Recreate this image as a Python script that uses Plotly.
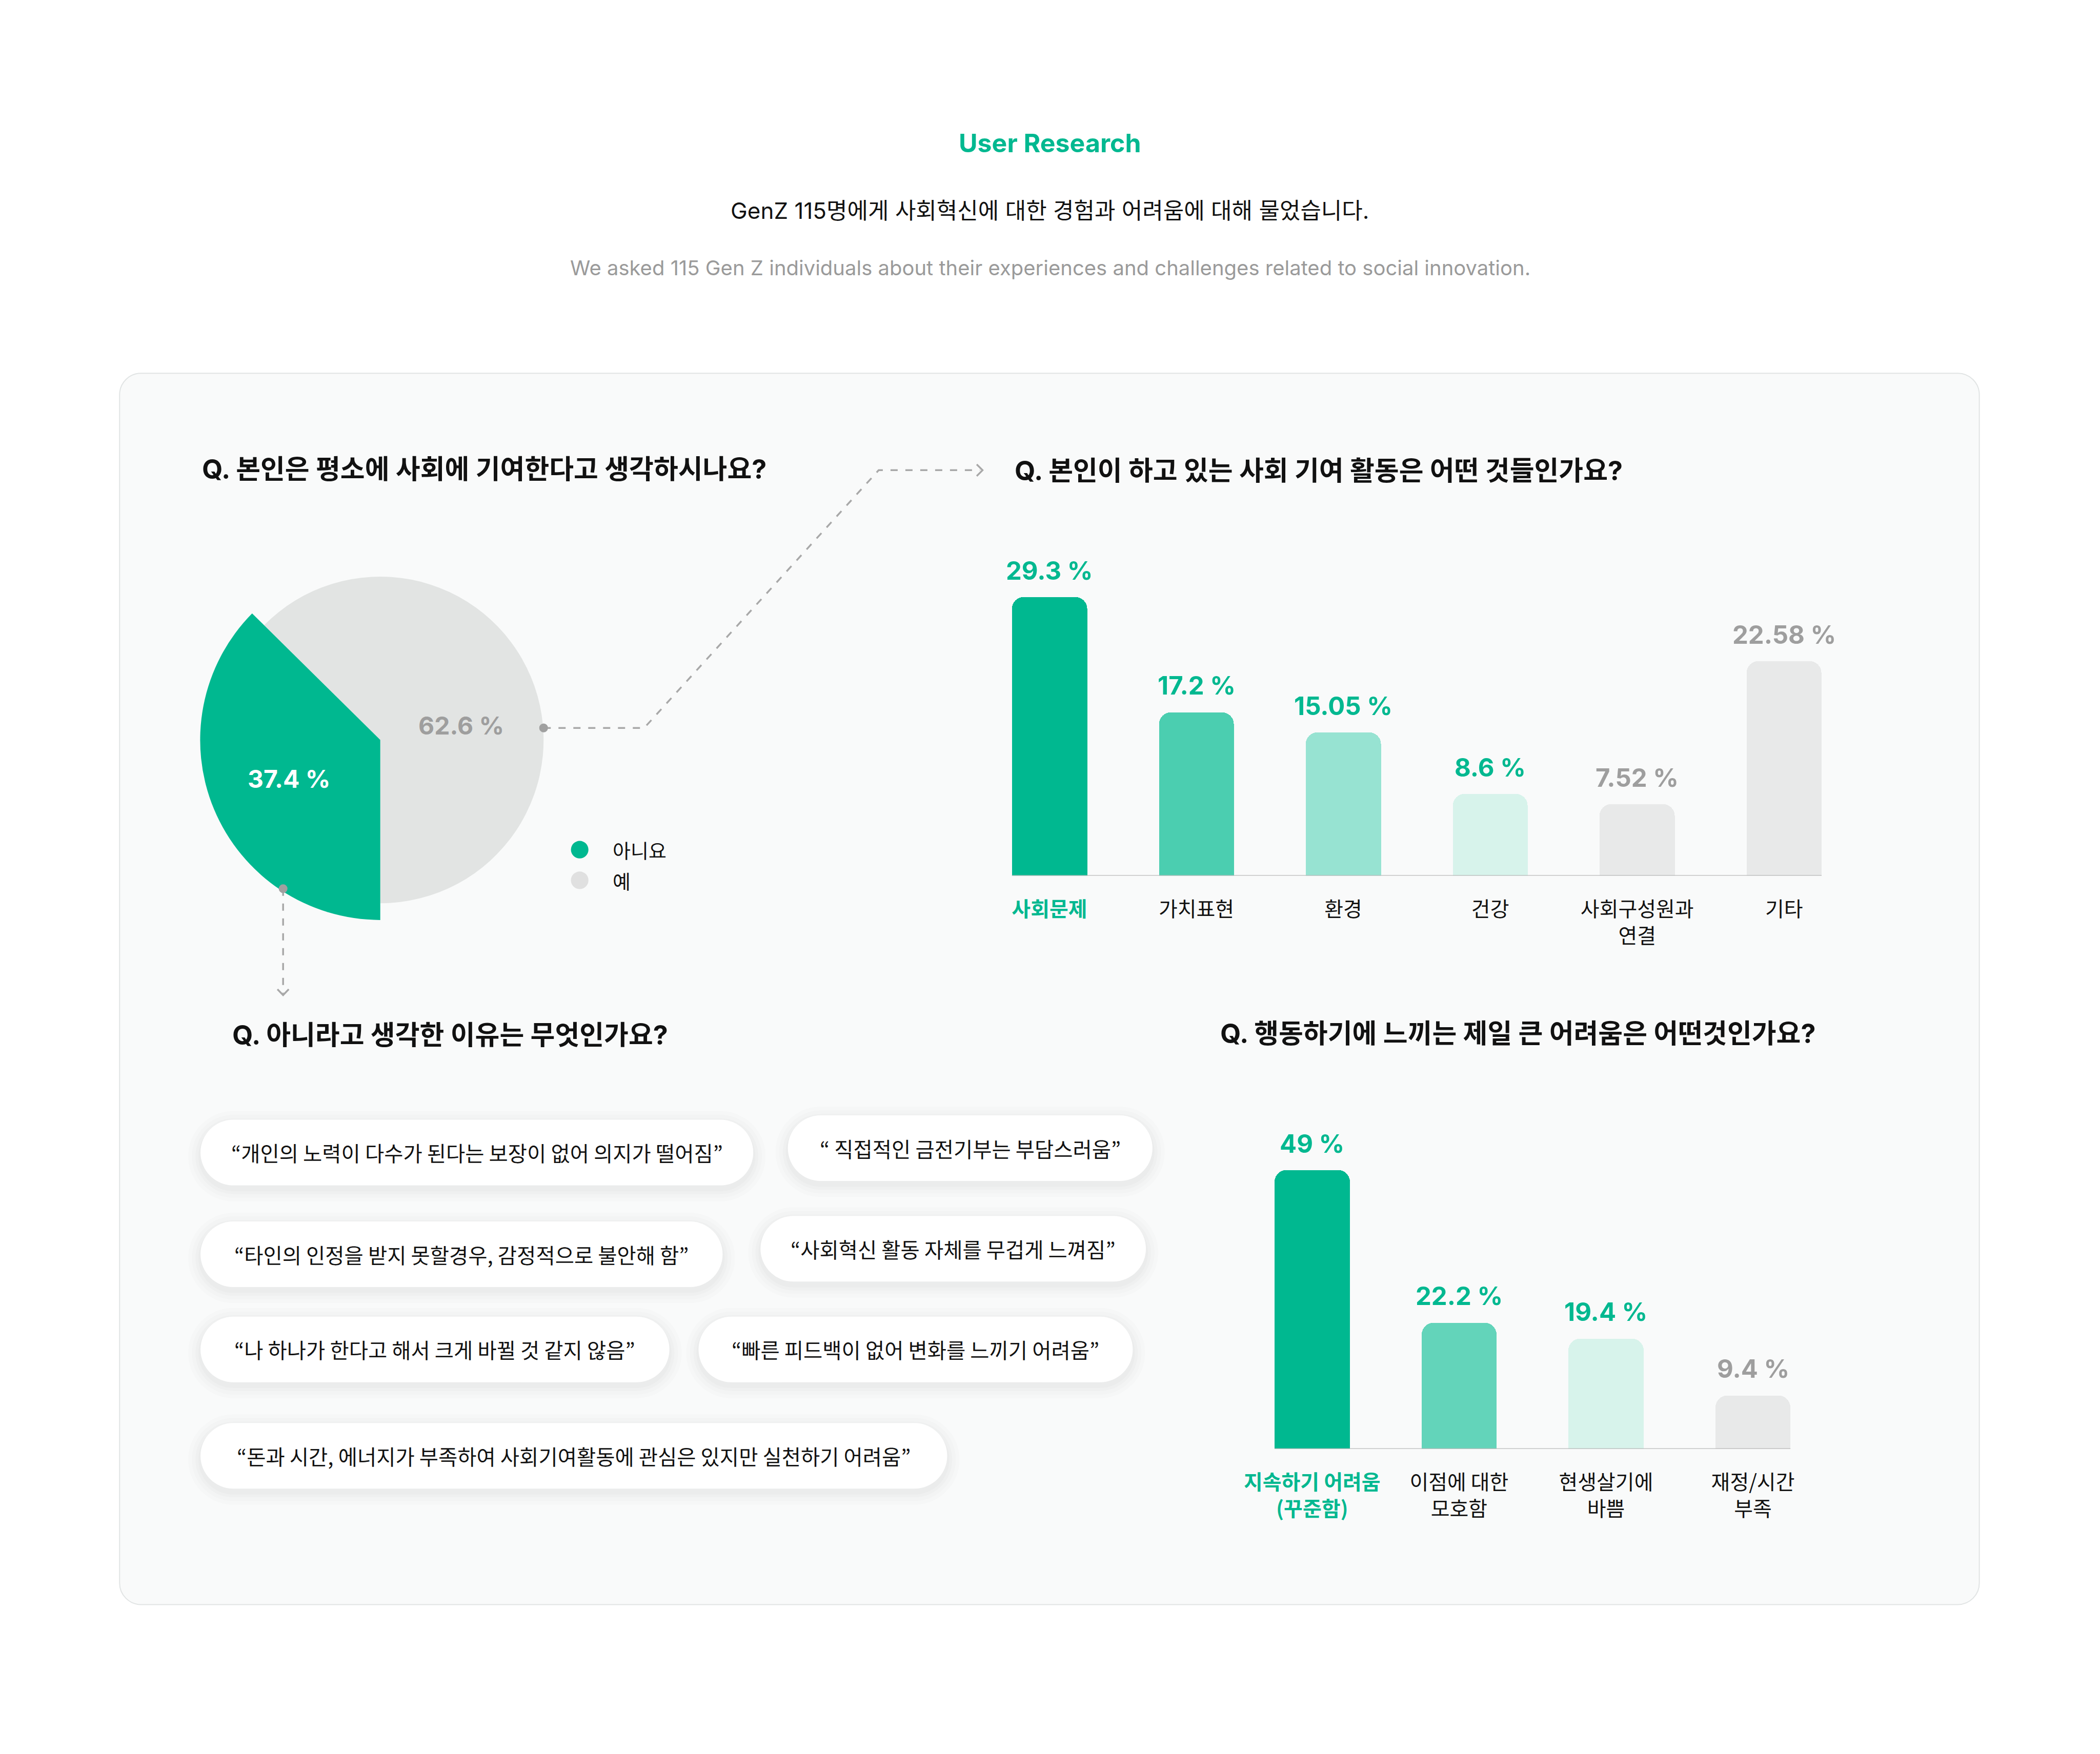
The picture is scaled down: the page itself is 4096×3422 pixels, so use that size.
import plotly.graph_objects as go

# ---------------- data ----------------
pie_labels = ["아니요", "예"]
pie_values = [37.4, 62.6]

act_categories = ["사회문제", "가치표현", "환경", "건강", "사회구성원과 연결", "기타"]
act_ticklabels = ["사회문제", "가치표현", "환경", "건강", "사회구성원과<br>연결", "기타"]
act_values = [29.3, 17.2, 15.05, 8.6, 7.52, 22.58]

diff_categories = ["지속하기 어려움 (꾸준함)", "이점에 대한 모호함", "현생살기에 바쁨", "재정/시간 부족"]
diff_ticklabels = ["지속하기 어려움<br>(꾸준함)", "이점에 대한<br>모호함", "현생살기에<br>바쁨", "재정/시간<br>부족"]
diff_values = [49, 22.2, 19.4, 9.4]

quotes = [
    "“개인의 노력이 다수가 된다는 보장이 없어 의지가 떨어짐”",
    "“ 직접적인 금전기부는 부담스러움”",
    "“타인의 인정을 받지 못할경우, 감정적으로 불안해 함”",
    "“사회혁신 활동 자체를 무겁게 느껴짐”",
    "“나 하나가 한다고 해서 크게 바뀔 것 같지 않음”",
    "“빠른 피드백이 없어 변화를 느끼기 어려움”",
    "“돈과 시간, 에너지가 부족하여 사회기여활동에 관심은 있지만 실천하기 어려움”",
]

title_main = "User Research"
subtitle_ko = "GenZ 115명에게 사회혁신에 대한 경험과 어려움에 대해 물었습니다."
subtitle_en = "We asked 115 Gen Z individuals about their experiences and challenges related to social innovation."
q_titles = [
    "Q. 본인은 평소에 사회에 기여한다고 생각하시나요?",
    "Q. 본인이 하고 있는 사회 기여 활동은 어떤 것들인가요?",
    "Q. 아니라고 생각한 이유는 무엇인가요?",
    "Q. 행동하기에 느끼는 제일 큰 어려움은 어떤것인가요?",
]

# ---------------- styling / geometry (reference pixel space) ----------------
W_REF, H_REF = 5760, 4812
W_OUT, H_OUT = 4096, 3422
FONT = "Inter, 'Noto Sans CJK KR', sans-serif"
KFONT = "'Noto Sans CJK KR', Inter, sans-serif"
GREEN = "#00B890"
GREY_TXT = "#9E9E9E"
BLACK = "#111111"
PIE_GREY = "#E2E4E3"

act_colors = ["#00B890", "#4BCEB0", "#97E3D2", "#D7F3EB", "#E8E9E9", "#E8E9E9"]
act_label_colors = [GREEN, GREEN, GREEN, GREEN, GREY_TXT, GREY_TXT]
diff_colors = ["#00B890", "#63D4BA", "#D7F3EB", "#E8E9E9"]
diff_label_colors = [GREEN, GREEN, GREEN, GREY_TXT]


def px(x):
    return x / W_REF


def py(y):
    return 1 - y / H_REF


def P(x, y):
    return f"{px(x):.6f},{py(y):.6f}"


def rrect(x0, y0, x1, y1, r):
    k = 0.5523 * r
    return (f"M {P(x0 + r, y0)} L {P(x1 - r, y0)} "
            f"C {P(x1 - r + k, y0)} {P(x1, y0 + r - k)} {P(x1, y0 + r)} "
            f"L {P(x1, y1 - r)} "
            f"C {P(x1, y1 - r + k)} {P(x1 - r + k, y1)} {P(x1 - r, y1)} "
            f"L {P(x0 + r, y1)} "
            f"C {P(x0 + r - k, y1)} {P(x0, y1 - r + k)} {P(x0, y1 - r)} "
            f"L {P(x0, y0 + r)} "
            f"C {P(x0, y0 + r - k)} {P(x0 + r - k, y0)} {P(x0 + r, y0)} Z")


def circle(cx, cy, r, color):
    return dict(type="circle", xref="paper", yref="paper",
                x0=px(cx - r), x1=px(cx + r), y0=py(cy + r), y1=py(cy - r),
                fillcolor=color, line=dict(width=0), layer="above")


def label(x, y, text, size, color, weight="normal", family=FONT, xanchor="center"):
    return dict(x=px(x), y=py(y), xref="paper", yref="paper", text=text, showarrow=False,
                xanchor=xanchor, yanchor="middle",
                font=dict(family=family, size=size, color=color, weight=weight))


fig = go.Figure()
shapes = []
annotations = []

# panel
shapes.append(dict(type="path", xref="paper", yref="paper",
                   path=rrect(328, 1024, 5429, 4402, 59),
                   fillcolor="#F9FAFA", line=dict(color="#E1E4E4", width=2), layer="below"))

# ---------------- pie ----------------
cx, cy = 1043, 2030
R_OUT, R_IN = 494, 448
for R, cols in [(R_IN, ["rgba(0,0,0,0)", PIE_GREY]), (R_OUT, [GREEN, "rgba(0,0,0,0)"])]:
    fig.add_trace(go.Pie(
        labels=pie_labels, values=pie_values, sort=False,
        direction="clockwise", rotation=180,
        marker=dict(colors=cols, line=dict(width=0)),
        textinfo="none", hoverinfo="skip", showlegend=False,
        domain=dict(x=[px(cx - R), px(cx + R)], y=[py(cy + R), py(cy - R)]),
    ))

annotations.append(label(793, 2137, f"{pie_values[0]:g} %", 48, "white", "bold"))
annotations.append(label(1265, 1991, f"{pie_values[1]:g} %", 48, GREY_TXT, "bold"))

# legend
for lab, col, ly in zip(pie_labels, [GREEN, "#E0E0E0"], [2331, 2415]):
    shapes.append(circle(1590, ly, 24, col))
    annotations.append(label(1677, ly, lab, 38, BLACK, family=KFONT, xanchor="left"))

# connectors
DASH_COL = "#A8A8A8"
shapes.append(dict(type="path", xref="paper", yref="paper",
                   path=f"M {P(1491, 1997)} L {P(1767, 1997)} L {P(2410, 1290)} L {P(2688, 1290)}",
                   line=dict(color=DASH_COL, width=3.5, dash="14px,15px"), layer="above"))
shapes.append(dict(type="path", xref="paper", yref="paper",
                   path=f"M {P(2679, 1274)} L {P(2695, 1290)} L {P(2679, 1306)}",
                   line=dict(color=DASH_COL, width=3.5), layer="above"))
shapes.append(dict(type="path", xref="paper", yref="paper",
                   path=f"M {P(776.5, 2438)} L {P(776.5, 2726)}",
                   line=dict(color=DASH_COL, width=3.5, dash="14px,15px"), layer="above"))
shapes.append(dict(type="path", xref="paper", yref="paper",
                   path=f"M {P(761, 2714)} L {P(776.5, 2730)} L {P(792, 2714)}",
                   line=dict(color=DASH_COL, width=3.5), layer="above"))
shapes.append(circle(1491, 1997, 12, "#A0A0A0"))
shapes.append(circle(776.5, 2438, 12, "#A0A0A0"))

# ---------------- bar charts ----------------
BAR_W = 0.511
SPACING = 403


def add_bar_chart(cats, ticks, vals, colors, lcolors, xa, ya, cx0, base_y, px_per_unit, ymax):
    n = len(cats)
    fig.add_trace(go.Bar(x=cats, y=vals, width=BAR_W, xaxis=xa, yaxis=ya,
                         marker=dict(color=colors, cornerradius=23, line=dict(width=0)),
                         hoverinfo="skip", showlegend=False))
    x_left = cx0 - SPACING / 2
    x_right = cx0 + (n - 1) * SPACING + SPACING / 2
    top = base_y - ymax * px_per_unit
    ticktext = [f"<span style='color:{GREEN}'><b>{ticks[0]}</b></span>"] + ticks[1:]
    axname = "xaxis" if xa == "x" else "xaxis" + xa[1:]
    ayname = "yaxis" if ya == "y" else "yaxis" + ya[1:]
    fig.update_layout(**{
        axname: dict(domain=[px(x_left), px(x_right)], range=[-0.5, n - 0.5], anchor=ya,
                     showgrid=False, zeroline=False, showline=False, ticks="",
                     tickmode="array", tickvals=cats, ticktext=ticktext,
                     tickfont=dict(family=KFONT, size=40, color=BLACK),
                     ticklabelstandoff=38, fixedrange=True),
        ayname: dict(domain=[py(base_y), py(top)], range=[0, ymax], anchor=xa,
                     visible=False, fixedrange=True),
    })
    shapes.append(dict(type="line", xref=xa, yref=ya, x0=-BAR_W / 2, x1=n - 1 + BAR_W / 2,
                       y0=0, y1=0, line=dict(color="#B8B8B8", width=2.5), layer="above"))
    for c, v, lc in zip(cats, vals, lcolors):
        annotations.append(dict(x=c, y=v, xref=xa, yref=ya, xanchor="center", yanchor="bottom",
                                yshift=20, text=f"{v:g} %", showarrow=False,
                                font=dict(family=FONT, size=49, color=lc, weight="bold")))


add_bar_chart(act_categories, act_ticklabels, act_values, act_colors, act_label_colors,
              "x", "y", 2878.5, 2402.5, 764.5 / 29.3, 30)
add_bar_chart(diff_categories, diff_ticklabels, diff_values, diff_colors, diff_label_colors,
              "x2", "y2", 3599, 3975, 765 / 49, 50)

# ---------------- quote pills ----------------
pills = [(550, 3072, 2066, 3252), (2161, 3060, 3161, 3240),
         (550, 3351, 1982, 3531), (2086, 3336, 3143, 3516),
         (550, 3612, 1836, 3792), (1916, 3612, 3107, 3792),
         (550, 3904, 2598, 4084)]
for (x0, y0, x1, y1), q in zip(pills, quotes):
    h = y1 - y0
    for e, a in [(34, 0.010), (24, 0.012), (14, 0.014), (6, 0.016)]:
        shapes.append(dict(type="path", xref="paper", yref="paper",
                           path=rrect(x0 - e, y0 - e + 10, x1 + e, y1 + e + 10, h / 2 + e),
                           fillcolor=f"rgba(0,0,0,{a})", line=dict(width=0), layer="below"))
    shapes.append(dict(type="path", xref="paper", yref="paper",
                       path=rrect(x0, y0, x1, y1, h / 2),
                       fillcolor="white", line=dict(width=0), layer="below"))
    annotations.append(label((x0 + x1) / 2, (y0 + y1) / 2, q, 40.5, BLACK, family=KFONT))

# ---------------- headings ----------------
annotations.append(label(2880, 393, title_main, 50, GREEN, "bold"))
annotations.append(label(2880, 578, subtitle_ko, 44, BLACK))
annotations.append(label(2880, 735, subtitle_en, 40, "#9A9A9A"))
for t, (qx, qy) in zip(q_titles, [(551, 1288), (2780, 1291), (634, 2840), (3344, 2836)]):
    annotations.append(label(qx, qy, t, 52, BLACK, "bold", xanchor="left"))

fig.update_layout(
    width=W_OUT, height=H_OUT,
    margin=dict(l=0, r=0, t=0, b=0, pad=0),
    paper_bgcolor="white", plot_bgcolor="rgba(0,0,0,0)",
    shapes=shapes, annotations=annotations, showlegend=False,
    bargap=0,
)

fig.write_html("out.html")
